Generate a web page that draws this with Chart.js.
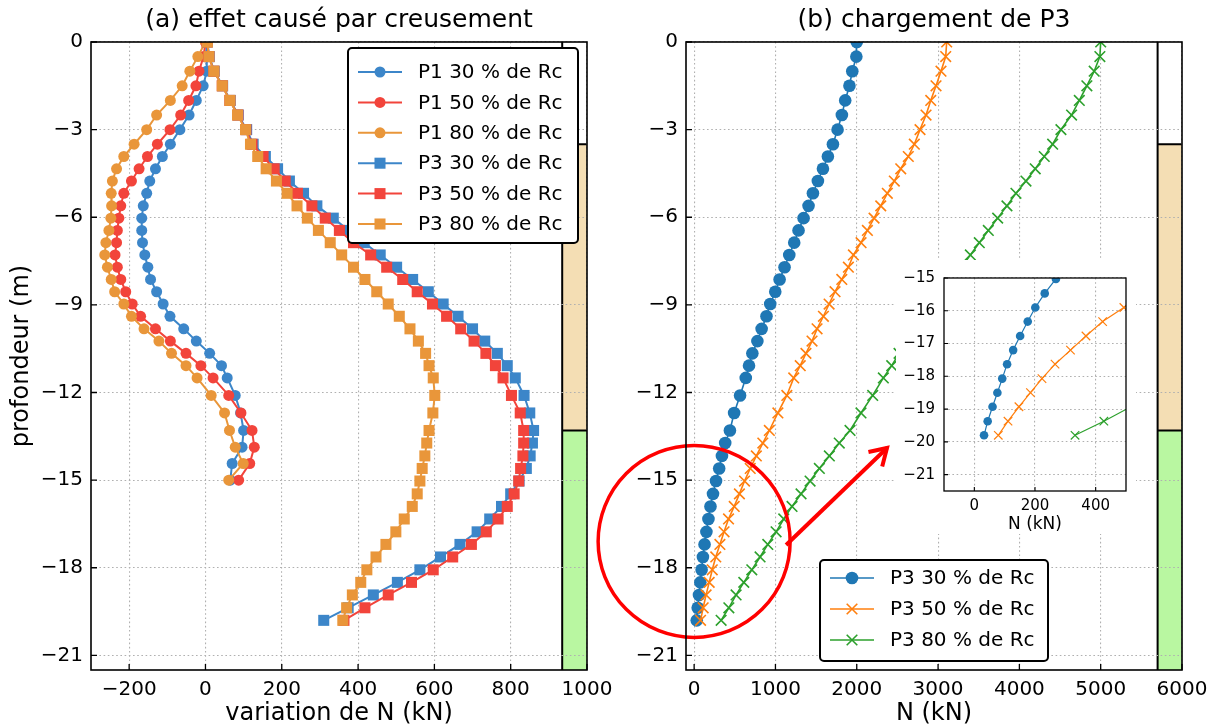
<!DOCTYPE html>
<html lang="fr">
<head>
<meta charset="UTF-8">
<title>Effort normal dans les pieux</title>
<script src="https://cdn.jsdelivr.net/npm/chart.js"></script>
<style>
  body { margin: 0; background: #fff; }
  #wrap { position: relative; width: 1217px; height: 728px; overflow: hidden; background: #fff; }
  canvas { position: absolute; }
  #left { left: 0; top: 0; }
  #right { left: 590px; top: 0; }
  #inset { left: 896px; top: 260px; background: #fff; }
</style>
</head>
<body>
<div id="wrap">
  <canvas id="left" width="622" height="728"></canvas>
  <canvas id="right" width="627" height="728"></canvas>
  <canvas id="inset" width="240" height="274"></canvas>
</div>
<script>
// depth of the computation points (m)
const depthP1 = [0, -0.5, -1, -1.5, -2, -2.5, -3, -3.5, -3.92, -4.34, -4.76, -5.18, -5.61, -6.03, -6.45, -6.87,
  -7.29, -7.71, -8.13, -8.55, -8.97, -9.39, -9.82, -10.24, -10.66, -11.08, -11.5, -12.1, -12.7, -13.3,
  -13.87, -14.43, -15];
const depthP3 = [0, -0.5, -1, -1.5, -2, -2.5, -3, -3.5, -3.92, -4.34, -4.76, -5.18, -5.61, -6.03, -6.45, -6.87,
  -7.29, -7.71, -8.13, -8.55, -8.97, -9.39, -9.82, -10.24, -10.66, -11.08, -11.5, -12.1, -12.7, -13.3,
  -13.73, -14.17, -14.6, -15.03, -15.47, -15.9, -16.33, -16.77, -17.2, -17.63, -18.07, -18.5, -18.93, -19.37, -19.8];

// (a) variation de N due au creusement (kN)
const p1Rc30 = [2, 4, 3, -6, -24, -43, -67, -92, -113, -131, -146, -154, -163, -167, -167, -165,
  -159, -151, -144, -128, -111, -93, -57, -24, 11, 42, 57, 78, 92, 100, 96, 70, 65];
const p1Rc50 = [0, -5, -17, -25, -44, -65, -93, -126, -152, -174, -194, -214, -222, -227, -231, -233,
  -237, -231, -222, -209, -192, -170, -131, -92, -51, -12, 20, 61, 93, 122, 128, 116, 87];
const p1Rc80 = [0, -20, -41, -61, -92, -128, -154, -187, -214, -233, -244, -247, -246, -248, -253, -261,
  -264, -257, -247, -238, -214, -194, -161, -122, -89, -51, -22, 15, 50, 63, 78, 99, 61];
const p3Rc30 = [5, 10, 23, 45, 65, 86, 108, 125, 157, 189, 220, 257, 292, 335, 375, 416,
  458, 501, 543, 584, 623, 662, 700, 732, 765, 791, 812, 835, 850, 860,
  857, 851, 841, 822, 800, 776, 745, 712, 667, 616, 562, 503, 440, 374, 310];
const p3Rc50 = [4, 9, 22, 44, 64, 85, 106, 122, 151, 180, 209, 241, 279, 314, 351, 388,
  433, 475, 517, 555, 595, 632, 669, 704, 735, 760, 780, 802, 825, 834,
  834, 832, 826, 821, 809, 791, 767, 736, 697, 648, 597, 540, 479, 418, 363];
const p3Rc80 = [5, 9, 22, 44, 64, 84, 105, 118, 137, 159, 186, 214, 240, 267, 296, 327,
  357, 388, 418, 449, 479, 508, 536, 558, 577, 586, 597, 601, 596, 586,
  580, 575, 568, 562, 555, 542, 521, 499, 473, 447, 423, 407, 385, 370, 360];

// (b) chargement de P3 (kN)
const loadRc30 = [2000, 1995, 1945, 1910, 1858, 1817, 1764, 1707, 1645, 1584, 1522, 1461, 1407, 1346, 1284, 1231,
  1170, 1112, 1051, 998, 936, 890, 830, 778, 716, 675, 635, 565, 492, 440,
  382, 342, 308, 269, 232, 201, 176, 151, 128, 108, 92, 76, 60, 44, 32];
const loadRc50 = [3106, 3094, 3036, 2975, 2910, 2852, 2778, 2708, 2634, 2541, 2462, 2376, 2295, 2213, 2131, 2053,
  1959, 1897, 1816, 1733, 1660, 1590, 1512, 1450, 1375, 1305, 1225, 1140, 1030, 925,
  845, 765, 690, 620, 557, 493, 423, 368, 317, 266, 223, 185, 147, 111, 79];
const loadRc80 = [5000, 4990, 4920, 4830, 4737, 4642, 4511, 4409, 4306, 4195, 4081, 3958, 3847, 3733, 3618, 3507,
  3397, 3285, 3175, 3065, 2955, 2845, 2735, 2625, 2520, 2430, 2327, 2196, 2052, 1917,
  1785, 1663, 1540, 1426, 1315, 1204, 1102, 1008, 906, 811, 709, 611, 516, 427, 332];

// soil layers (m)
const soilTop = [0, -3.5, -13.3];
const soilBottom = [-3.5, -13.3, -21.5];

// ticks
const depthTicks = [0, -3, -6, -9, -12, -15, -18, -21];
const leftTicks = [-200, 0, 200, 400, 600, 800, 1000];
const rightTicks = [0, 1000, 2000, 3000, 4000, 5000, 6000];
const insetXTicks = [0, 200, 400];
const insetYTicks = [-15, -16, -17, -18, -19, -20, -21];

const soilColors = ['#ffffff', '#f4deb4', '#b9f7a1'];
const FONT = "'DejaVu Sans', sans-serif";
Chart.defaults.font.family = FONT;
Chart.defaults.color = '#000';
Chart.defaults.animation = false;

const fmt = v => (v < 0 ? '\u2212' + Math.abs(v) : String(v));
const pts = (xs, ys) => xs.map((x, i) => ({ x, y: ys[i] }));

function series(label, xs, ys, color, marker, r, lw, order) {
  return {
    label, data: pts(xs, ys), showLine: true, order,
    borderColor: color, backgroundColor: color, borderWidth: lw,
    pointStyle: marker, pointRadius: r, pointHoverRadius: r,
    pointBackgroundColor: color, pointBorderColor: color,
    pointBorderWidth: marker === 'crossRot' ? lw : 0
  };
}

function scaleOpts(min, max, ticks, size, fontSize, pad, horizontal) {
  return {
    type: 'linear', min, max,
    afterBuildTicks: s => { s.ticks = ticks.map(v => ({ value: v })); },
    afterFit: s => { if (horizontal) s.height = size; else s.width = size; },
    grid: { color: '#b0b0b0', lineWidth: 1.1, drawTicks: false },
    border: { display: false, dash: [1.6, 2.6] },
    ticks: { font: { size: fontSize }, color: '#000', padding: pad, autoSkip: false, maxRotation: 0,
      callback: v => fmt(v) }
  };
}

function drawMarker(ctx, style, x, y, r, color, lw) {
  ctx.fillStyle = color; ctx.strokeStyle = color;
  ctx.beginPath();
  if (style === 'circle') {
    ctx.arc(x, y, r, 0, 2 * Math.PI); ctx.fill();
  } else if (style === 'rect') {
    const h = r * Math.SQRT1_2; ctx.fillRect(x - h, y - h, 2 * h, 2 * h);
  } else {
    const h = r * Math.SQRT1_2; ctx.lineWidth = lw;
    ctx.moveTo(x - h, y - h); ctx.lineTo(x + h, y + h);
    ctx.moveTo(x + h, y - h); ctx.lineTo(x - h, y + h); ctx.stroke();
  }
}

function drawLegend(chart, L) {
  const { ctx, chartArea: a } = chart;
  const bx = L.align === 'right' ? a.right - L.gap - L.width : (a.left + a.right) / 2 - L.width / 2;
  const by = L.align === 'right' ? a.top + 6 : a.bottom - L.gap - L.height;
  ctx.save();
  ctx.beginPath(); ctx.roundRect(bx, by, L.width, L.height, 4);
  ctx.fillStyle = '#fff'; ctx.fill();
  ctx.lineWidth = 2; ctx.strokeStyle = '#000'; ctx.stroke();
  chart.data.datasets.forEach((d, i) => {
    const cy = by + L.first + i * L.row;
    ctx.strokeStyle = d.borderColor; ctx.lineWidth = d.borderWidth;
    ctx.beginPath(); ctx.moveTo(bx + 10, cy); ctx.lineTo(bx + 54, cy); ctx.stroke();
    drawMarker(ctx, d.pointStyle, bx + 32, cy, d.pointRadius, d.borderColor, d.borderWidth);
    ctx.fillStyle = '#000'; ctx.font = '20px ' + FONT;
    ctx.textAlign = 'left'; ctx.textBaseline = 'middle';
    ctx.fillText(d.label, bx + 70, cy + 1);
  });
  ctx.restore();
}

function deco(o) {
  return {
    id: 'deco',
    beforeDraw(chart) {
      if (o.stripFrom === undefined) return;
      const { ctx, scales: { x, y } } = chart;
      const x0 = x.getPixelForValue(o.stripFrom), x1 = x.getPixelForValue(x.max);
      ctx.save();
      soilTop.forEach((t, i) => {
        const y0 = y.getPixelForValue(t), y1 = y.getPixelForValue(soilBottom[i]);
        ctx.fillStyle = soilColors[i];
        ctx.fillRect(x0, y0, x1 - x0, y1 - y0);
      });
      ctx.strokeStyle = '#000'; ctx.lineWidth = 2;
      ctx.beginPath();
      ctx.moveTo(x0, y.getPixelForValue(y.max)); ctx.lineTo(x0, y.getPixelForValue(y.min));
      soilTop.slice(1).forEach(t => {
        const yy = y.getPixelForValue(t); ctx.moveTo(x0, yy); ctx.lineTo(x1, yy);
      });
      ctx.stroke();
      ctx.restore();
    },
    afterDatasetsDraw(chart) { if (o.annot) o.annot(chart); },
    afterDraw(chart) {
      const { ctx, chartArea: a, scales: { x, y } } = chart;
      ctx.save();
      ctx.strokeStyle = '#000'; ctx.lineWidth = o.tickW;
      ctx.beginPath();
      x.ticks.forEach(t => {
        const px = x.getPixelForValue(t.value); ctx.moveTo(px, a.bottom); ctx.lineTo(px, a.bottom - o.tickLen);
      });
      y.ticks.forEach(t => {
        const py = y.getPixelForValue(t.value); ctx.moveTo(a.left, py); ctx.lineTo(a.left + o.tickLen, py);
      });
      ctx.stroke();
      ctx.lineWidth = o.frameW;
      ctx.strokeRect(a.left, a.top, a.right - a.left, a.bottom - a.top);
      ctx.fillStyle = '#000'; ctx.textAlign = 'center'; ctx.textBaseline = 'middle';
      const cx = (a.left + a.right) / 2;
      if (o.title) { ctx.font = o.titleSize + 'px ' + FONT; ctx.fillText(o.title, cx, o.titleY); }
      if (o.xLabel) { ctx.font = o.labelSize + 'px ' + FONT; ctx.fillText(o.xLabel, cx, o.xLabelY); }
      if (o.yLabel) {
        ctx.font = o.labelSize + 'px ' + FONT;
        ctx.translate(o.yLabelX, (a.top + a.bottom) / 2); ctx.rotate(-Math.PI / 2);
        ctx.fillText(o.yLabel, 0, 0);
      }
      ctx.restore();
      if (o.legend) drawLegend(chart, o.legend);
    }
  };
}

// red circle around the pile tip and arrow to the zoom
function zoomMark(chart) {
  const { ctx, scales: { x, y } } = chart;
  const cx = x.getPixelForValue(0), cy = y.getPixelForValue(-17.1);
  ctx.save();
  ctx.strokeStyle = '#ff0000'; ctx.lineWidth = 3.5;
  ctx.beginPath(); ctx.arc(cx, cy, 96, 0, 2 * Math.PI); ctx.stroke();
  const x0 = x.getPixelForValue(1131), y0 = y.getPixelForValue(-17.22);
  const x1 = x.getPixelForValue(2372), y1 = y.getPixelForValue(-13.9);
  const ang = Math.atan2(y1 - y0, x1 - x0);
  ctx.lineWidth = 4; ctx.lineJoin = 'miter';
  ctx.beginPath(); ctx.moveTo(x0, y0); ctx.lineTo(x1, y1); ctx.stroke();
  ctx.beginPath();
  ctx.moveTo(x1 - 19 * Math.cos(ang - 0.55), y1 - 19 * Math.sin(ang - 0.55));
  ctx.lineTo(x1, y1);
  ctx.lineTo(x1 - 19 * Math.cos(ang + 0.55), y1 - 19 * Math.sin(ang + 0.55));
  ctx.stroke();
  ctx.restore();
}

const baseOptions = {
  responsive: false, devicePixelRatio: 1, events: [],
  plugins: { legend: { display: false }, tooltip: { enabled: false } }
};

const BLUE = '#3c86c9', RED = '#f2443b', ORANGE = '#e9963a';

new Chart(document.getElementById('left'), {
  type: 'scatter',
  data: {
    datasets: [
      series('P1 30 % de Rc', p1Rc30, depthP1, BLUE, 'circle', 5.5, 2, 6),
      series('P1 50 % de Rc', p1Rc50, depthP1, RED, 'circle', 5.5, 2, 5),
      series('P1 80 % de Rc', p1Rc80, depthP1, ORANGE, 'circle', 5.5, 2, 4),
      series('P3 30 % de Rc', p3Rc30, depthP3, BLUE, 'rect', 7.8, 2, 3),
      series('P3 50 % de Rc', p3Rc50, depthP3, RED, 'rect', 7.8, 2, 2),
      series('P3 80 % de Rc', p3Rc80, depthP3, ORANGE, 'rect', 7.8, 2, 1)
    ]
  },
  options: {
    ...baseOptions,
    layout: { autoPadding: false, padding: { left: 0, top: 42, right: 35, bottom: 0 } },
    scales: {
      x: scaleOpts(-300, 1000, leftTicks, 58, 20, 8, true),
      y: scaleOpts(-21.5, 0, depthTicks, 91, 20, 8, false)
    }
  },
  plugins: [deco({
    stripFrom: 935, tickLen: 6, tickW: 1.3, frameW: 1.6,
    title: '(a) effet causé par creusement', titleSize: 25, titleY: 20,
    xLabel: 'variation de N (kN)', labelSize: 24, xLabelY: 714,
    yLabel: 'profondeur (m)', yLabelX: 22,
    legend: { align: 'right', width: 230, height: 195, gap: 9, first: 24, row: 30.4 }
  })]
});

new Chart(document.getElementById('right'), {
  type: 'scatter',
  data: {
    datasets: [
      series('P3 30 % de Rc', loadRc30, depthP3, '#1f77b4', 'circle', 6.3, 1.6, 3),
      series('P3 50 % de Rc', loadRc50, depthP3, '#ff7f0e', 'crossRot', 7.5, 1.6, 2),
      series('P3 80 % de Rc', loadRc80, depthP3, '#2ca02c', 'crossRot', 7.5, 1.6, 1)
    ]
  },
  options: {
    ...baseOptions,
    layout: { autoPadding: false, padding: { left: 0, top: 42, right: 35, bottom: 0 } },
    scales: {
      x: scaleOpts(-100, 6000, rightTicks, 58, 20, 8, true),
      y: scaleOpts(-21.5, 0, depthTicks, 96, 20, 8, false)
    }
  },
  plugins: [deco({
    stripFrom: 5700, tickLen: 6, tickW: 1.3, frameW: 1.6,
    title: '(b) chargement de P3', titleSize: 25, titleY: 20,
    xLabel: 'N (kN)', labelSize: 24, xLabelY: 714,
    annot: zoomMark,
    legend: { align: 'center', width: 228, height: 101, gap: 9, first: 18, row: 31 }
  })]
});

new Chart(document.getElementById('inset'), {
  type: 'scatter',
  data: {
    datasets: [
      series('P3 30 % de Rc', loadRc30, depthP3, '#1f77b4', 'circle', 4.3, 1.2, 3),
      series('P3 50 % de Rc', loadRc50, depthP3, '#ff7f0e', 'crossRot', 6, 1.2, 2),
      series('P3 80 % de Rc', loadRc80, depthP3, '#2ca02c', 'crossRot', 6, 1.2, 1)
    ]
  },
  options: {
    ...baseOptions,
    layout: { autoPadding: false, padding: { left: 0, top: 11, right: 10, bottom: 0 } },
    scales: {
      x: scaleOpts(-100, 500, insetXTicks, 43, 15, 6, true),
      y: scaleOpts(-21.5, -15, insetYTicks, 48, 15, 9, false)
    }
  },
  plugins: [deco({
    tickLen: 4, tickW: 1.1, frameW: 1.3,
    xLabel: 'N (kN)', labelSize: 17, xLabelY: 265
  })]
});
</script>
</body>
</html>
